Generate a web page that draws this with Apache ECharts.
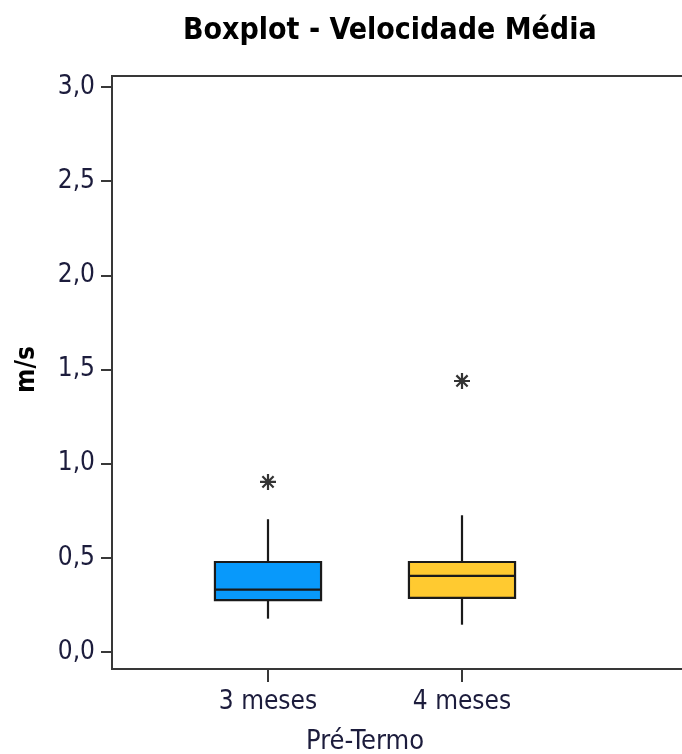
<!DOCTYPE html>
<html>
<head>
<meta charset="utf-8">
<script src="https://cdn.jsdelivr.net/npm/echarts@6/dist/echarts.min.js"></script>
<style>
  html, body { margin: 0; padding: 0; background: #fff; }
  #chart { width: 682px; height: 754px; }
</style>
</head>
<body>
<div id="chart"></div>
<script>
  const categories = ['3 meses', '4 meses'];
  const whiskerLow = [0.177, 0.145];
  const q1 = [0.275, 0.287];
  const median = [0.331, 0.404];
  const q3 = [0.478, 0.478];
  const whiskerHigh = [0.705, 0.726];
  const outliers = [0.903, 1.439];

  const boxFill = ['#0899fb', '#ffca30'];
  const ink = '#383838';
  const textColor = '#1c1c3c';
  const font = "'DejaVu Sans Condensed', 'DejaVu Sans', sans-serif";

  const boxData = categories.map((c, i) => [i, whiskerLow[i], q1[i], median[i], q3[i], whiskerHigh[i]]);
  const outlierData = categories.map((c, i) => [c, outliers[i]]);

  function renderBox(params, api) {
    const i = api.value(0);
    const bandW = api.size([1, 0])[0];
    const w = bandW * 0.547;
    const pLow = api.coord([i, api.value(1)]);
    const pQ1 = api.coord([i, api.value(2)]);
    const pMed = api.coord([i, api.value(3)]);
    const pQ3 = api.coord([i, api.value(4)]);
    const pHigh = api.coord([i, api.value(5)]);
    const cx = pQ1[0];
    const line = { stroke: '#1a1a1a', lineWidth: 2.2 };
    return {
      type: 'group',
      children: [
        { type: 'line', shape: { x1: cx, y1: pLow[1], x2: cx, y2: pQ1[1] }, style: line },
        { type: 'line', shape: { x1: cx, y1: pQ3[1], x2: cx, y2: pHigh[1] }, style: line },
        {
          type: 'rect',
          shape: { x: cx - w / 2, y: pQ3[1], width: w, height: pQ1[1] - pQ3[1] },
          style: { fill: boxFill[i], stroke: '#1a1a1a', lineWidth: 2.2 }
        },
        { type: 'line', shape: { x1: cx - w / 2, y1: pMed[1], x2: cx + w / 2, y2: pMed[1] }, style: line }
      ]
    };
  }

  const chart = echarts.init(document.getElementById('chart'), null, { renderer: 'canvas' });

  chart.setOption({
    animation: false,
    textStyle: { fontFamily: font },
    title: {
      text: 'Boxplot - Velocidade Média',
      left: 178,
      top: 11,
      textStyle: { fontFamily: font, fontWeight: 'bold', fontSize: 30, color: '#000' }
    },
    grid: [
      {
        left: 112, top: 76, width: 640, bottom: 85,
        show: true, borderColor: ink, borderWidth: 2, backgroundColor: 'transparent',
        outerBoundsMode: 'none', containLabel: false
      },
      { left: 171, width: 388, top: 87, bottom: 102, outerBoundsMode: 'none', containLabel: false }
    ],
    xAxis: [
      { type: 'value', gridIndex: 0, show: false, min: 0, max: 1 },
      {
        type: 'category',
        gridIndex: 1,
        data: categories,
        boundaryGap: true,
        offset: 18,
        axisLine: { show: false, onZero: false },
        axisTick: { show: true, alignWithLabel: true, length: 12, lineStyle: { color: ink, width: 2 } },
        axisLabel: { fontSize: 26, color: textColor, margin: 19, fontFamily: font },
        splitLine: { show: false },
        name: 'Pré-Termo',
        nameLocation: 'middle',
        nameGap: 58,
        nameTextStyle: { fontSize: 27, color: textColor, fontFamily: font }
      }
    ],
    yAxis: [
      { type: 'value', gridIndex: 0, show: false, min: 0, max: 1 },
      {
        type: 'value',
        gridIndex: 1,
        min: 0,
        max: 3,
        interval: 0.5,
        offset: 59,
        axisLine: { show: false, onZero: false },
        axisTick: { show: true, length: 11, lineStyle: { color: ink, width: 2 } },
        splitLine: { show: false },
        axisLabel: {
          fontSize: 26,
          color: textColor,
          margin: 17,
          fontFamily: font,
          formatter: (v) => v.toFixed(1).replace('.', ',')
        },
        name: 'm/s',
        nameLocation: 'middle',
        nameGap: 72,
        nameRotate: 90,
        nameTextStyle: { fontSize: 26, fontWeight: 'bold', color: '#000', fontFamily: font }
      }
    ],
    series: [
      {
        type: 'custom',
        xAxisIndex: 1,
        yAxisIndex: 1,
        renderItem: renderBox,
        encode: { x: 0, y: [1, 2, 3, 4, 5] },
        data: boxData,
        z: 3
      },
      {
        type: 'scatter',
        xAxisIndex: 1,
        yAxisIndex: 1,
        symbol: 'path://M5,0L5,10M0,5L10,5M1.5,1.5L8.5,8.5M8.5,1.5L1.5,8.5',
        symbolSize: 16,
        itemStyle: { color: 'transparent', borderColor: '#000', borderWidth: 2.2 },
        data: outlierData,
        z: 4
      }
    ]
  });
</script>
</body>
</html>
